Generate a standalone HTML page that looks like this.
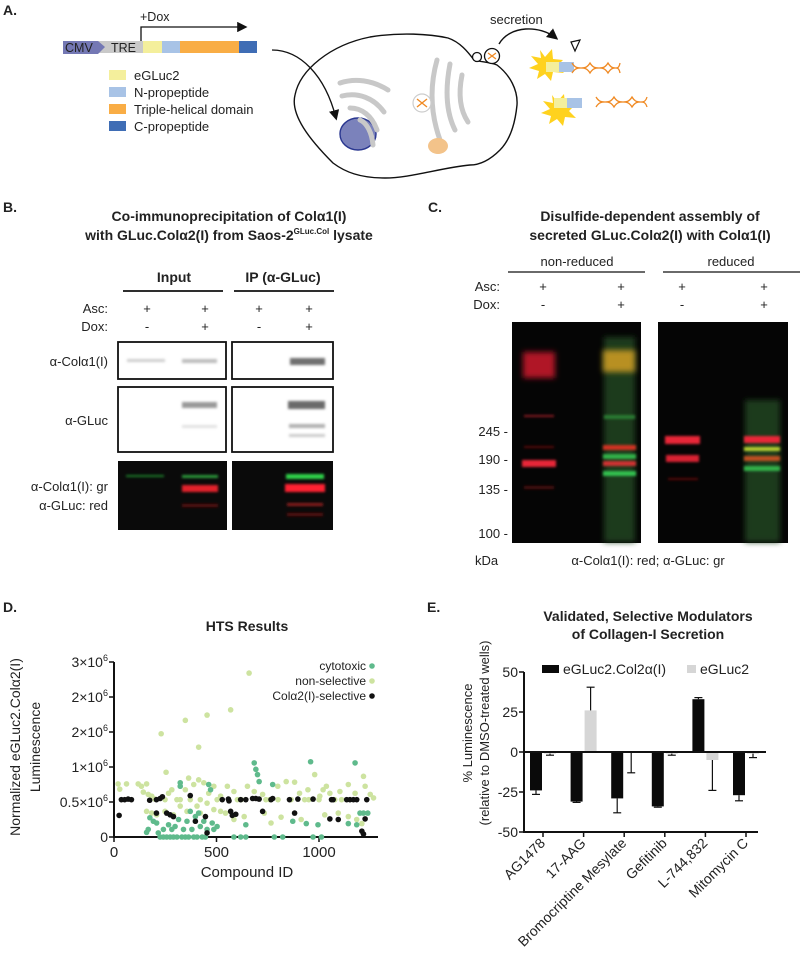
<!DOCTYPE html>
<html><head><meta charset="utf-8">
<style>
html,body{margin:0;padding:0;background:#fff;}
svg{display:block;font-family:"Liberation Sans",Arial,sans-serif;}
.t{fill:#222;}
.b{font-weight:bold;}
</style></head>
<body>
<svg id="fig" width="800" height="965" viewBox="0 0 800 965" font-size="13">
<defs>
<filter id="blur" x="-20%" y="-200%" width="140%" height="500%"><feGaussianBlur stdDeviation="1.4"/></filter>
<filter id="blur2" x="-20%" y="-50%" width="140%" height="200%"><feGaussianBlur stdDeviation="3"/></filter>
<marker id="ah" markerWidth="8" markerHeight="8" refX="6" refY="4" orient="auto"><path d="M0,0 L8,4 L0,8 z" fill="#111"/></marker>
</defs>

<!-- ================= PANEL A ================= -->
<g>
<text x="3" y="15" class="t b" font-size="14">A.</text>
<g>
<rect x="97" y="41" width="46" height="12" fill="#c9c9c9"/>
<polygon points="63,41 98,41 105,47 98,54 63,54" fill="#7478b4"/>
<text x="65" y="52" class="t" font-size="12.5">CMV</text>
<text x="111" y="52" class="t" font-size="12.5">TRE</text>
<rect x="143" y="41" width="19" height="12" fill="#f4ef9c"/>
<rect x="162" y="41" width="18" height="12" fill="#a8c3e6"/>
<rect x="180" y="41" width="59" height="12" fill="#f9ad45"/>
<rect x="239" y="41" width="18" height="12" fill="#3f6db5"/>
<path d="M141,41 L141,27 L245,27" fill="none" stroke="#111" stroke-width="1.3" marker-end="url(#ah)"/>
<text x="140" y="21" class="t" font-size="12.5">+Dox</text>
</g>
<g>
<rect x="109" y="70" width="17" height="10" fill="#f4ef9c"/><text x="134" y="80" class="t">eGLuc2</text>
<rect x="109" y="87" width="17" height="10" fill="#a8c3e6"/><text x="134" y="97" class="t">N-propeptide</text>
<rect x="109" y="104" width="17" height="10" fill="#f9ad45"/><text x="134" y="114" class="t">Triple-helical domain</text>
<rect x="109" y="121" width="17" height="10" fill="#3f6db5"/><text x="134" y="131" class="t">C-propeptide</text>
</g>
<path d="M272,50 C300,50 325,75 336,118" fill="none" stroke="#111" stroke-width="1.3" marker-end="url(#ah)"/>
<g>
<path d="M333,163 C310,140 290,115 295,95 C300,70 330,45 370,37 C400,32 430,34 448,38 C460,42 468,52 474,60 C480,62 490,62 497,65 C510,75 518,90 517,105 C515,125 510,140 500,150 C490,160 480,165 470,165 C440,168 410,178 385,178 C360,178 345,172 333,163 Z" fill="none" stroke="#111" stroke-width="1.4"/>
<ellipse cx="358" cy="134" rx="18" ry="16" fill="#7b82bb" stroke="#2a3790" stroke-width="1.4"/>
<g fill="none" stroke="#c8c8c8" stroke-width="5" stroke-linecap="round">
<path d="M340,83 C355,78 372,80 388,90"/><path d="M342,96 C358,92 374,98 384,112"/>
<path d="M350,108 C362,108 372,116 377,130"/><path d="M360,120 C367,123 372,133 373,145"/>
<path d="M437,60 C430,85 430,112 440,140"/><path d="M450,64 C445,90 446,112 455,130"/>
<path d="M462,75 C458,95 460,110 468,122"/>
</g>
<circle cx="422" cy="103" r="9" fill="#fff" stroke="#ccc" stroke-width="1.2"/>
<path d="M417,99 l10,8 M427,99 l-10,8" stroke="#f08a24" stroke-width="1.4"/>
<ellipse cx="438" cy="146" rx="10" ry="8" fill="#f3c38a"/>
<circle cx="477" cy="57" r="4.5" fill="#fff" stroke="#111" stroke-width="1.3"/>
<circle cx="492" cy="56" r="7.5" fill="#fff" stroke="#111" stroke-width="1.3"/>
<path d="M488,53 l8,6 M496,53 l-8,6" stroke="#f08a24" stroke-width="1.3"/>
</g>
<text x="490" y="24" class="t" font-size="13">secretion</text>
<path d="M499,44 C510,25 540,25 556,38" fill="none" stroke="#111" stroke-width="1.4" marker-end="url(#ah)"/>
<path d="M571,42 L580,40 L575,51 Z" fill="none" stroke="#111" stroke-width="1.2"/>
<g>
<polygon points="540,50 545,57 552,49 553,59 563,60 557,66 564,73 553,72 551,81 545,74 537,79 539,71 529,68 538,64 531,56 541,58" fill="#ffd21e"/>
<rect x="546" y="62" width="13" height="10" fill="#f4ef9c"/><rect x="559" y="62" width="15" height="10" fill="#a8c3e6"/>
<path d="M572,63 C578,73 584,63 590,73 C596,63 602,73 608,63 C614,73 618,63 620,73 M572,73 C578,63 584,73 590,63 C596,73 602,63 608,73 C614,63 618,73 620,63" fill="none" stroke="#f08a24" stroke-width="1.3"/>
<polygon points="552,95 557,102 564,94 565,104 575,105 569,111 576,118 565,117 563,126 557,119 549,124 551,116 541,113 550,109 543,101 553,103" fill="#ffd21e"/>
<rect x="554" y="98" width="13" height="10" fill="#f4ef9c"/><rect x="567" y="98" width="15" height="10" fill="#a8c3e6"/>
<path d="M596,97 C602,107 608,97 614,107 C620,97 626,107 632,97 C638,107 644,97 647,107 M596,107 C602,97 608,107 614,97 C620,107 626,97 632,107 C638,97 644,107 647,97" fill="none" stroke="#f08a24" stroke-width="1.3"/>
</g>
</g>

<!-- ================= PANEL B ================= -->
<g>
<text x="3" y="212" class="t b" font-size="14">B.</text>
<text x="229" y="221" class="t b" font-size="14" text-anchor="middle">Co-immunoprecipitation of Colα1(I)</text>
<text x="229" y="240" class="t b" font-size="14" text-anchor="middle">with GLuc.Colα2(I) from Saos-2<tspan font-size="8" dy="-6">GLuc.Col</tspan><tspan dy="6"> lysate</tspan></text>
<text x="174" y="282" class="t b" font-size="14" text-anchor="middle">Input</text>
<text x="283" y="282" class="t b" font-size="14" text-anchor="middle">IP (α-GLuc)</text>
<line x1="123" y1="291" x2="223" y2="291" stroke="#111" stroke-width="1.8"/>
<line x1="234" y1="291" x2="334" y2="291" stroke="#111" stroke-width="1.8"/>
<text x="108" y="313" class="t" text-anchor="end">Asc:</text>
<text x="108" y="331" class="t" text-anchor="end">Dox:</text>
<text x="147" y="313" class="t" text-anchor="middle">+</text><text x="205" y="313" class="t" text-anchor="middle">+</text><text x="259" y="313" class="t" text-anchor="middle">+</text><text x="309" y="313" class="t" text-anchor="middle">+</text>
<text x="147" y="331" class="t" text-anchor="middle">-</text><text x="205" y="331" class="t" text-anchor="middle">+</text><text x="259" y="331" class="t" text-anchor="middle">-</text><text x="309" y="331" class="t" text-anchor="middle">+</text>
<text x="108" y="366" class="t" text-anchor="end">α-Colα1(I)</text>
<text x="108" y="425" class="t" text-anchor="end">α-GLuc</text>
<text x="108" y="491" class="t" text-anchor="end">α-Colα1(I): gr</text>
<text x="108" y="510" class="t" text-anchor="end">α-GLuc: red</text>
<g>
<rect x="118" y="342" width="108" height="37" fill="#fff" stroke="#111" stroke-width="1.8"/>
<rect x="232" y="342" width="101" height="37" fill="#fff" stroke="#111" stroke-width="1.8"/>
<rect x="127" y="359" width="38" height="3" fill="#cfcfcf" filter="url(#blur)"/>
<rect x="182" y="359" width="35" height="4" fill="#bdbdbd" filter="url(#blur)"/>
<rect x="290" y="358" width="35" height="7" fill="#6f6f6f" filter="url(#blur)"/>
</g>
<g>
<rect x="118" y="387" width="108" height="65" fill="#fff" stroke="#111" stroke-width="1.8"/>
<rect x="232" y="387" width="101" height="65" fill="#fff" stroke="#111" stroke-width="1.8"/>
<rect x="182" y="402" width="35" height="6" fill="#9a9a9a" filter="url(#blur)"/>
<rect x="182" y="425" width="35" height="3" fill="#e2e2e2" filter="url(#blur)"/>
<rect x="288" y="401" width="37" height="8" fill="#6a6a6a" filter="url(#blur)"/>
<rect x="289" y="424" width="36" height="4" fill="#b0b0b0" filter="url(#blur)"/>
<rect x="289" y="434" width="36" height="3" fill="#cccccc" filter="url(#blur)"/>
</g>
<g>
<rect x="118" y="461" width="109" height="69" fill="#0a0a0a"/>
<rect x="232" y="461" width="101" height="69" fill="#0a0a0a"/>
<rect x="126" y="475" width="38" height="2" fill="#1f7a2a" filter="url(#blur)"/>
<rect x="182" y="475" width="36" height="3" fill="#2a9a3a" filter="url(#blur)"/>
<rect x="182" y="485" width="36" height="7" fill="#e2202a" filter="url(#blur)"/>
<rect x="182" y="504" width="36" height="3" fill="#5a1010" filter="url(#blur)"/>
<rect x="286" y="474" width="38" height="5" fill="#2ed04a" filter="url(#blur)"/>
<rect x="285" y="484" width="40" height="8" fill="#ff2030" filter="url(#blur)"/>
<rect x="287" y="503" width="36" height="3" fill="#8a1a1a" filter="url(#blur)"/>
<rect x="287" y="513" width="36" height="3" fill="#5a1010" filter="url(#blur)"/>
</g>
</g>

<!-- ================= PANEL C ================= -->
<g>
<text x="428" y="212" class="t b" font-size="14">C.</text>
<text x="650" y="221" class="t b" font-size="14" text-anchor="middle">Disulfide-dependent assembly of</text>
<text x="650" y="240" class="t b" font-size="14" text-anchor="middle">secreted GLuc.Colα2(I) with Colα1(I)</text>
<text x="577" y="266" class="t" text-anchor="middle">non-reduced</text>
<text x="731" y="266" class="t" text-anchor="middle">reduced</text>
<line x1="508" y1="272" x2="645" y2="272" stroke="#111" stroke-width="1.3"/>
<line x1="663" y1="272" x2="800" y2="272" stroke="#111" stroke-width="1.3"/>
<text x="500" y="291" class="t" text-anchor="end">Asc:</text>
<text x="500" y="309" class="t" text-anchor="end">Dox:</text>
<text x="543" y="291" class="t" text-anchor="middle">+</text><text x="621" y="291" class="t" text-anchor="middle">+</text><text x="682" y="291" class="t" text-anchor="middle">+</text><text x="764" y="291" class="t" text-anchor="middle">+</text>
<text x="543" y="309" class="t" text-anchor="middle">-</text><text x="621" y="309" class="t" text-anchor="middle">+</text><text x="682" y="309" class="t" text-anchor="middle">-</text><text x="764" y="309" class="t" text-anchor="middle">+</text>
<g>
<rect x="512" y="322" width="129" height="221" fill="#050505"/>
<rect x="604" y="337" width="31" height="205" fill="#1c3a1c" filter="url(#blur2)"/>
<rect x="523" y="352" width="32" height="26" fill="#b01828" filter="url(#blur2)"/>
<rect x="524" y="415" width="30" height="2" fill="#8a1a20" filter="url(#blur)"/>
<rect x="524" y="446" width="30" height="2" fill="#5a1010" filter="url(#blur)"/>
<rect x="522" y="460" width="34" height="7" fill="#e82838" filter="url(#blur)"/>
<rect x="524" y="486" width="30" height="3" fill="#4a1010" filter="url(#blur)"/>
<rect x="603" y="350" width="32" height="22" fill="#b89020" filter="url(#blur2)"/>
<rect x="604" y="415" width="31" height="4" fill="#2a7a30" filter="url(#blur)"/>
<rect x="603" y="445" width="33" height="5" fill="#d03020" filter="url(#blur)"/>
<rect x="603" y="454" width="33" height="5" fill="#30b048" filter="url(#blur)"/>
<rect x="603" y="461" width="33" height="5" fill="#d03030" filter="url(#blur)"/>
<rect x="603" y="471" width="33" height="5" fill="#30c050" filter="url(#blur)"/>
</g>
<g>
<rect x="658" y="322" width="130" height="221" fill="#050505"/>
<rect x="745" y="400" width="35" height="142" fill="#1c3a1c" filter="url(#blur2)"/>
<rect x="665" y="436" width="35" height="8" fill="#e82838" filter="url(#blur)"/>
<rect x="666" y="455" width="33" height="7" fill="#d82030" filter="url(#blur)"/>
<rect x="668" y="478" width="30" height="2" fill="#5a1010" filter="url(#blur)"/>
<rect x="744" y="436" width="36" height="7" fill="#e82838" filter="url(#blur)"/>
<rect x="744" y="447" width="36" height="4" fill="#b8d030" filter="url(#blur)"/>
<rect x="744" y="456" width="36" height="5" fill="#c05020" filter="url(#blur)"/>
<rect x="744" y="466" width="36" height="5" fill="#30b048" filter="url(#blur)"/>
</g>
<text x="508" y="436" class="t" text-anchor="end">245 -</text>
<text x="508" y="464" class="t" text-anchor="end">190 -</text>
<text x="508" y="494" class="t" text-anchor="end">135 -</text>
<text x="508" y="538" class="t" text-anchor="end">100 -</text>
<text x="475" y="565" class="t">kDa</text>
<text x="648" y="565" class="t" text-anchor="middle">α-Colα1(I): red; α-GLuc: gr</text>
</g>

<!-- ================= PANEL D ================= -->
<g id="panelD">
<text x="3" y="612" class="t b" font-size="14">D.</text>
<text x="247" y="631" class="t b" font-size="14" text-anchor="middle">HTS Results</text>
<text transform="translate(20,747) rotate(-90)" class="t" font-size="14" text-anchor="middle">Normalized eGLuc2.Colα2(I)</text>
<text transform="translate(40,747) rotate(-90)" class="t" font-size="14" text-anchor="middle">Luminescence</text>
<text x="247" y="877" class="t" font-size="15" text-anchor="middle">Compound ID</text>
</g>

<!-- ================= PANEL E ================= -->
<g id="panelE">
<text x="427" y="612" class="t b" font-size="14">E.</text>
<text x="648" y="621" class="t b" font-size="14" text-anchor="middle">Validated, Selective Modulators</text>
<text x="648" y="639" class="t b" font-size="14" text-anchor="middle">of Collagen-I Secretion</text>
<text transform="translate(472,733) rotate(-90)" class="t" font-size="13" text-anchor="middle">% Luminescence</text>
<text transform="translate(489,733) rotate(-90)" class="t" font-size="13" text-anchor="middle">(relative to DMSO-treated wells)</text>
</g>
</svg>

<script>
// ---------- Panel D data (values in units of 1e6 luminescence) ----------
const selX = [25,36,52,69,85,174,207,225,236,207,257,274,290,372,397,446,454,528,558,561,569,577,594,618,643,676,692,708,725,766,774,856,881,897,971,1053,1061,1069,1094,1135,1151,1168,1184,1209,1217,1225,1233];
const selY = [.37,.64,.64,.65,.64,.63,.64,.66,.69,.41,.41,.38,.35,.71,.27,.35,.07,.64,.65,.62,.44,.37,.39,.64,.64,.66,.66,.65,.44,.64,.66,.64,.41,.65,.65,.31,.64,.64,.30,.64,.64,.64,.64,.10,.05,.31,.64];
const cytX = [159,167,175,192,208,216,225,241,241,257,266,274,282,290,298,307,315,323,323,331,339,348,356,364,372,380,389,397,405,413,421,430,438,446,454,462,471,479,487,503,585,618,643,643,684,692,700,708,774,782,823,872,938,959,971,995,1012,1176,1184,1200,1217,1238,1143];
const cytY = [.08,.13,.33,.27,.24,.07,0,0,.13,0,.21,0,.13,0,.18,0,.30,.93,.87,0,.13,0,.27,0,.44,.13,0,.35,0,.41,.18,0,.27,0,.13,.90,.81,.24,.13,.18,0,0,0,.21,1.27,1.16,1.07,.95,.90,0,0,.27,.23,1.29,0,.21,0,1.27,.21,.41,.41,.41,.23];
const nonX = [659,569,454,348,230,413,254,20,61,28,118,134,159,143,167,184,200,159,184,208,249,266,282,307,323,348,364,372,389,413,421,438,462,487,503,520,553,585,602,651,684,725,741,799,840,864,881,905,930,946,979,1004,1020,1036,1053,1077,1102,1143,1176,1217,1225,1250,1266,249,290,356,421,487,520,544,585,635,733,766,815,913,1028,1094,1143,1184,1209,454,405,323,620,800,950,1110,1000,760];
const nonY = [2.81,2.18,2.09,2.0,1.77,1.54,1.11,.91,.91,.82,.91,.87,.91,.77,.73,.70,.65,.44,.41,.38,.64,.75,.81,.64,.64,.81,1.01,.64,.90,.98,.64,.93,.75,.87,.64,.70,.87,.78,.64,.87,.78,.73,.64,.87,.95,.64,.94,.75,.64,.81,1.07,.70,.81,.87,.75,.64,.78,.90,.75,1.04,.87,.73,.67,.44,.38,.44,.41,.47,.44,.41,.30,.35,.41,.24,.34,.30,.38,.41,.35,.30,.23,.58,.53,.53,.64,.64,.64,.64,.64,.64];
const dYTickVals = [0,0.6,1.2,1.8,2.4,3.0];
const dYTickLabels = ["0","0.5×10","1×10","2×10","2×10","3×10"];
const dXTickVals = [0,500,1000];
const dLegend = ["cytotoxic","non-selective","Colα2(I)-selective"];

// ---------- Panel E data ----------
const drugs = ["AG1478","17-AAG","Bromocriptine Mesylate","Gefitinib","L-744,832","Mitomycin C"];
const colVals = [-24,-31,-29,-34,33,-27];
const colErr = [2.5,0.5,9,0.5,1,3.5];
const glucVals = [-1,26,-0.5,-1,-5,-1];
const glucErr = [1,14.5,12.5,1,19,2.5];
const eYTicks = [50,25,0,-25,-50];

const NS = "http://www.w3.org/2000/svg";
function mk(parent, tag, attrs) {
  const e = document.createElementNS(NS, tag);
  for (const k in attrs) e.setAttribute(k, attrs[k]);
  parent.appendChild(e);
  return e;
}

// ----- Panel D drawing -----
(function(){
  const g = document.getElementById('panelD');
  const x0 = 114, x1 = 378, y0 = 837, y1 = 662;
  const xs = v => x0 + v * (102.5/500);
  const ys = v => y0 - v / 3.0 * (y0 - y1);
  const ax = mk(g,'path',{d:`M${x0},${y1} L${x0},${y0} L${x1},${y0}`,fill:'none',stroke:'#111','stroke-width':2});
  
  
  dYTickVals.forEach((v,i)=>{
    mk(g,'line',{x1:x0-5,x2:x0,y1:ys(v),y2:ys(v),stroke:'#111','stroke-width':1.5});
    const lab = dYTickLabels[i];
    const t = mk(g,'text',{x:x0-6,y:ys(v)+5,'text-anchor':'end','font-size':14,fill:'#222'});
    
    
    t.textContent = lab;
    if (lab.indexOf('×') >= 0) {
      const sp = mk(t,'tspan',{'font-size':9,dy:-6});
      sp.textContent = '6';
    }
  });
  dXTickVals.forEach(v=>{
    mk(g,'line',{x1:xs(v),x2:xs(v),y1:y0,y2:y0+5,stroke:'#111','stroke-width':1.5});
    const t = mk(g,'text',{x:xs(v),y:y0+20,'text-anchor':'middle','font-size':15,fill:'#222'});
    
    
    t.textContent = v;
  });
  function series(X,Y,color,name){
    const sg = mk(g,'g',{});
    
    
    X.forEach((xv,i)=>{
      const c = mk(sg,'circle',{cx:xs(xv),cy:ys(Y[i]),r:2.8,fill:color});
      
      
    });
  }
  series(nonX,nonY,'#cde3a0','non-selective-points');
  series(cytX,cytY,'#5fba8c','cytotoxic-points');
  series(selX,selY,'#111','selective-points');
  const lc = ['#5fba8c','#cde3a0','#111'];
  dLegend.forEach((s,i)=>{
    const t = mk(g,'text',{x:366,y:670+i*15,'text-anchor':'end','font-size':12,fill:'#222'});
    
    
    t.textContent = s;
    mk(g,'circle',{cx:372,cy:666+i*15,r:2.8,fill:lc[i]});
  });
})();

// ----- Panel E drawing -----
(function(){
  const g = document.getElementById('panelE');
  const x0 = 524, x1 = 766, yTop = 672, yBot = 832;
  const ys = v => yTop + (50 - v) / 100 * (yBot - yTop);
  const step = 40.6, first = 543;
  const cx = i => first + i * step;
  const bw = 12;
  eYTicks.forEach(v=>{
    mk(g,'line',{x1:x0-5,x2:x0,y1:ys(v),y2:ys(v),stroke:'#111','stroke-width':1.5});
    const t = mk(g,'text',{x:x0-6,y:ys(v)+5,'text-anchor':'end','font-size':14,fill:'#222'});
    
    
    t.textContent = v;
  });
  drugs.forEach((d,i)=>{
    const v = colVals[i], e = colErr[i];
    const b = mk(g,'rect',{x:cx(i)-bw-1,y:Math.min(ys(v),ys(0)),width:bw,height:Math.abs(ys(v)-ys(0)),fill:'#0a0a0a'});
    
    
    const bx = cx(i)-bw/2-1, ve = v + Math.sign(v||-1)*e;
    mk(g,'line',{x1:bx,x2:bx,y1:ys(v),y2:ys(ve),stroke:'#111','stroke-width':1.2});
    mk(g,'line',{x1:bx-4,x2:bx+4,y1:ys(ve),y2:ys(ve),stroke:'#111','stroke-width':1.2});
    const gv = glucVals[i], ge = glucErr[i];
    const gb = mk(g,'rect',{x:cx(i)+1,y:Math.min(ys(gv),ys(0)),width:bw,height:Math.abs(ys(gv)-ys(0)),fill:'#d6d6d6'});
    
    
    const gx = cx(i)+1+bw/2, gve = gv + Math.sign(gv||-1)*ge;
    mk(g,'line',{x1:gx,x2:gx,y1:ys(gv),y2:ys(gve),stroke:'#111','stroke-width':1.2});
    mk(g,'line',{x1:gx-4,x2:gx+4,y1:ys(gve),y2:ys(gve),stroke:'#111','stroke-width':1.2});
    mk(g,'line',{x1:cx(i),x2:cx(i),y1:yBot,y2:yBot+5,stroke:'#111','stroke-width':1.5});
    const t = mk(g,'text',{transform:`translate(${cx(i)+3},${yBot+12}) rotate(-45)`,'text-anchor':'end','font-size':14,fill:'#222'});
    
    
    t.textContent = d;
  });
  const ax = mk(g,'path',{d:`M${x0},${yTop} L${x0},${yBot} L${x1-8},${yBot}`,fill:'none',stroke:'#111','stroke-width':2});
  
  
  const zl = mk(g,'line',{x1:x0,x2:x1,y1:ys(0),y2:ys(0),stroke:'#111','stroke-width':2});
  
  
  mk(g,'rect',{x:542,y:665,width:17,height:8,fill:'#0a0a0a'});
  const l1 = mk(g,'text',{x:563,y:674,'font-size':14,fill:'#222'});
  
  
  l1.textContent = 'eGLuc2.Col2α(I)';
  mk(g,'rect',{x:687,y:665,width:9,height:8,fill:'#d6d6d6'});
  const l2 = mk(g,'text',{x:700,y:674,'font-size':14,fill:'#222'});
  
  
  l2.textContent = 'eGLuc2';
})();
</script>
</body></html>
